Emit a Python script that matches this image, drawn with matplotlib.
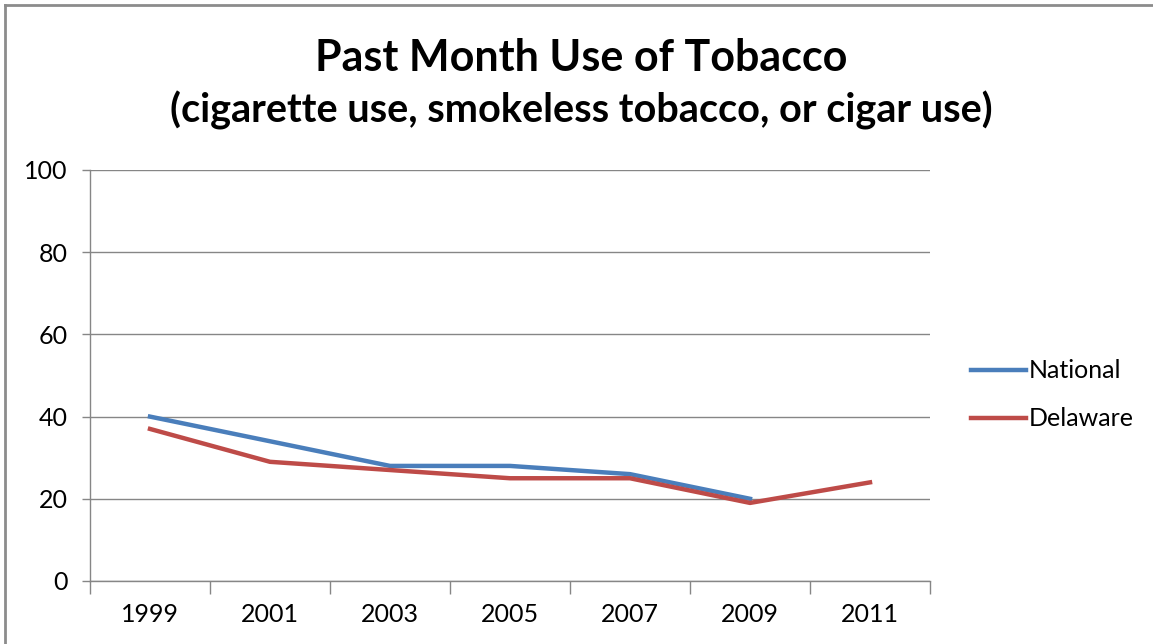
import numpy as np
import matplotlib
matplotlib.use("Agg")
import matplotlib.pyplot as plt
from matplotlib.lines import Line2D

years = ['1999', '2001', '2003', '2005', '2007', '2009', '2011']
national = [40, 34, 28, 28, 26, 20, np.nan]
delaware = [37, 29, 27, 25, 25, 19, 24]

plt.rcParams['font.family'] = ['Lato', 'DejaVu Sans']

fig = plt.figure(figsize=(11.53, 6.44), dpi=100)
ax = fig.add_axes([90/1153, 1-581/644, 840/1153, 411/644])

x = np.arange(len(years))
ax.plot(x, national, color='#4A7EBB', lw=3.2, label='National', solid_joinstyle='round')
ax.plot(x, delaware, color='#BE4B48', lw=3.2, label='Delaware', solid_joinstyle='round')

ax.set_xlim(-0.5, len(years) - 0.5)
ax.set_ylim(0, 100)
ax.set_yticks(range(0, 101, 20))
ax.yaxis.grid(True, color='#868686', lw=1)
ax.set_axisbelow(True)

# category labels in the middle, tick marks on the bin edges
ax.set_xticks(x)
ax.set_xticklabels(years)
ax.set_xticks(np.arange(-0.5, len(years)), minor=True)
ax.tick_params(axis='x', which='major', length=0, pad=16, labelsize=18)
ax.tick_params(axis='x', which='minor', length=9, color='#868686', width=1)
ax.tick_params(axis='y', length=6, color='#868686', width=1, pad=10, labelsize=18)

for s in ['top', 'right']:
    ax.spines[s].set_visible(False)
for s in ['left', 'bottom']:
    ax.spines[s].set_color('#868686')
    ax.spines[s].set_linewidth(1)

fig.text(581/1153, 1-58/644, 'Past Month Use of Tobacco', ha='center', va='center',
         fontsize=31, fontweight='bold')
fig.text(581/1153, 1-110/644, '(cigarette use, smokeless tobacco, or cigar use)', ha='center',
         va='center', fontsize=28.5, fontweight='bold')

leg = fig.legend(loc='upper left', bbox_to_anchor=(963/1153, 1-352/644), frameon=False,
                 fontsize=18, handlelength=2.2, handletextpad=0.12, labelspacing=1.0,
                 borderaxespad=0, borderpad=0.3)

# outer chart frame (only top/left edges visible in the crop)
fig.add_artist(Line2D([5/1153, 5/1153], [0, 1-5/644], color='#8c8c8c', lw=2))
fig.add_artist(Line2D([5/1153, 1], [1-5/644, 1-5/644], color='#8c8c8c', lw=2))

fig.savefig('out.png', dpi=100)
